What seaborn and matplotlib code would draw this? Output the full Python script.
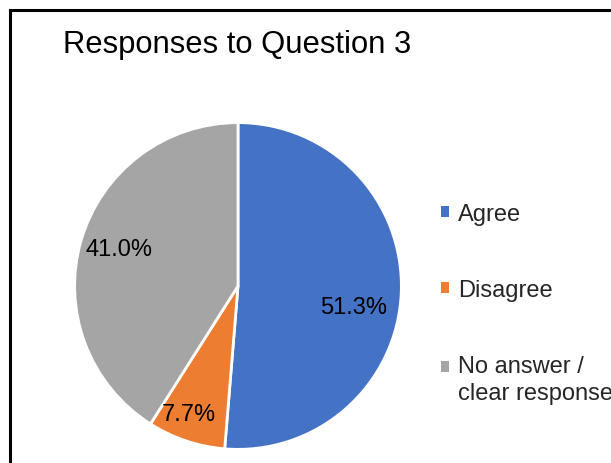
import numpy as np
import matplotlib
matplotlib.use("Agg")
import matplotlib.pyplot as plt
import seaborn as sns
from matplotlib.patches import Rectangle, Patch
from matplotlib.legend_handler import HandlerPatch

categories = ["Agree", "Disagree", "No answer /\nclear response"]
shares = [51.3, 7.7, 41.0]
colors = ["#4472C4", "#ED7D31", "#A5A5A5"]
title = "Responses to Question 3"

sns.set_theme(style="white")
plt.rcParams["font.family"] = ["Liberation Sans", "DejaVu Sans"]

fig = plt.figure(figsize=(6.11, 4.64), dpi=100)
fig.patch.set_facecolor("white")

# pie area: centre ~ (238, 287) px, radius ~ 165 px
ax = fig.add_axes([73 / 611, 12 / 464, 330 / 611, 330 / 464])
wedges, texts, autotexts = ax.pie(
    shares, colors=colors, startangle=90, counterclock=False,
    autopct="%.1f%%", pctdistance=0.76,
    wedgeprops=dict(edgecolor="white", linewidth=2),
    textprops=dict(fontsize=17, color="black"))
ax.set_xlim(-1.01, 1.01)
ax.set_ylim(-1.01, 1.01)
ax.set_aspect("equal")

# nudge labels to where the reference places them (angle in deg, radius)
label_pos = [(-10.2, 0.72), (-111.2, 0.84), (162.8, 0.76)]
for t, (ang, r) in zip(autotexts, label_pos):
    a = np.deg2rad(ang)
    t.set_position((r * np.cos(a), r * np.sin(a)))

fig.text(63 / 611, 1 - 45 / 464, title, fontsize=22.3, color="black",
         ha="left", va="center")


def first_line_square(legend, orig_handle, xdescent, ydescent, width, height, fontsize):
    # keep the marker next to the first line of a two-line label
    return Rectangle((-xdescent, -ydescent + 9.5), width, height)


handles = [Patch(facecolor=c, edgecolor="none") for c in colors]
leg = fig.legend(handles, categories, loc="upper left",
                 bbox_to_anchor=(441 / 611, 1 - 204 / 464), frameon=False,
                 fontsize=17, handlelength=0.33, handleheight=0.33,
                 handletextpad=0.4, labelspacing=2.28, borderpad=0, borderaxespad=0,
                 handler_map={handles[2]: HandlerPatch(patch_func=first_line_square)})
for t in leg.get_texts():
    t.set_linespacing(1.32)

# chart-area border (cut off at right and bottom)
fig.patches.append(Rectangle((9.5 / 611, -0.1), 1.2, 1.1 - 10.5 / 464,
                             transform=fig.transFigure, fill=False,
                             edgecolor="black", linewidth=2.2))

fig.savefig("out.png", dpi=100)
